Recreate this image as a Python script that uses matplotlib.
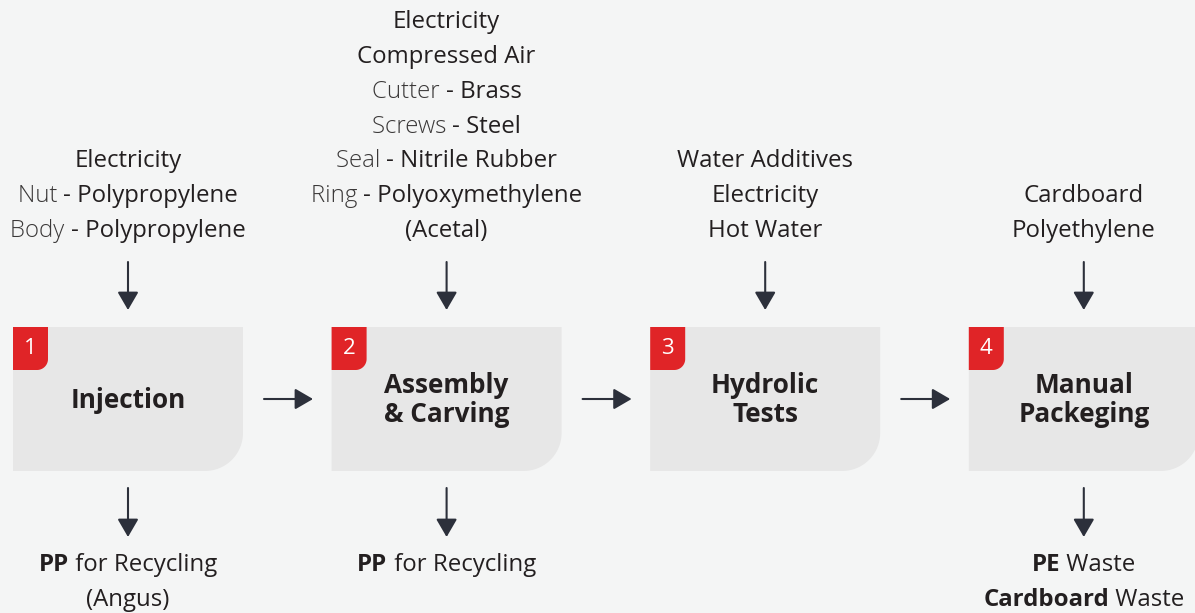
import numpy as np
import matplotlib
matplotlib.use('Agg')
import matplotlib.pyplot as plt
from matplotlib.path import Path
from matplotlib.patches import PathPatch
from matplotlib.offsetbox import TextArea, HPacker, AnnotationBbox

# Process steps
steps = ['Injection', 'Assembly\n& Carving', 'Hydrolic\nTests', 'Manual\nPackeging']
step_numbers = ['1', '2', '3', '4']

# Inputs per step: each line is (light part, regular part)
inputs = [
    [('', 'Electricity'), ('Nut ', '- Polypropylene'), ('Body ', '- Polypropylene')],
    [('', 'Electricity'), ('', 'Compressed Air'), ('Cutter ', '- Brass'), ('Screws ', '- Steel'),
     ('Seal ', '- Nitrile Rubber'), ('Ring ', '- Polyoxymethylene'), ('', '(Acetal)')],
    [('', 'Water Additives'), ('', 'Electricity'), ('', 'Hot Water')],
    [('', 'Cardboard'), ('', 'Polyethylene')],
]

# Outputs per step: each line is (bold part, regular part)
outputs = [
    [('PP', ' for Recycling'), ('', '(Angus)')],
    [('PP', ' for Recycling')],
    [],
    [('PE', ' Waste'), ('Cardboard', ' Waste')],
]

FONT = 'Open Sans'
BG = '#f4f5f5'
BOX = '#e7e7e7'
RED = '#e02427'
DARK = '#231f20'
LIGHT = '#3a3838'
ARROW = '#2c303b'

W, H = 1195, 613
fig = plt.figure(figsize=(W / 100, H / 100), dpi=100)
fig.patch.set_facecolor(BG)
ax = fig.add_axes([0, 0, 1, 1])
ax.set_xlim(0, W)
ax.set_ylim(H, 0)
ax.axis('off')

box_w, box_h = 230, 144
box_top = 327
pitch = 318.6
x_first = 13
line_gap = 34.8
fs = 17.3


def corner_box(x0, y0, w, h, r):
    # rectangle with only the bottom-right corner rounded
    t = np.linspace(0, np.pi / 2, 20)
    arc = [(x0 + w - r + r * np.sin(np.pi / 2 - a), y0 + h - r + r * np.cos(np.pi / 2 - a)) for a in t]
    verts = [(x0, y0), (x0 + w, y0)] + arc + [(x0, y0 + h), (x0, y0)]
    codes = [Path.MOVETO] + [Path.LINETO] * (len(verts) - 2) + [Path.CLOSEPOLY]
    return PathPatch(Path(verts, codes), facecolor=None, edgecolor='none')


def arrow(x1, y1, x2, y2):
    ax.annotate('', xy=(x2, y2), xytext=(x1, y1),
                arrowprops=dict(arrowstyle='-|>,head_length=0.55,head_width=0.32',
                                color=ARROW, lw=1.5, shrinkA=0, shrinkB=0,
                                mutation_scale=20))


def rich_line(x, y, parts):
    children = []
    for text, props in parts:
        if text:
            children.append(TextArea(text, textprops=dict(fontfamily=FONT, fontsize=fs, **props)))
    pack = HPacker(children=children, align='baseline', pad=0, sep=0)
    ab = AnnotationBbox(pack, (x, y), xycoords='data', frameon=False, box_alignment=(0.5, 0.5), pad=0)
    ax.add_artist(ab)


for i, step in enumerate(steps):
    x0 = x_first + i * pitch
    cx = x0 + box_w / 2

    box = corner_box(x0, box_top, box_w, box_h, 38)
    box.set_facecolor(BOX)
    ax.add_patch(box)
    badge = corner_box(x0, box_top, 35, 43, 11)
    badge.set_facecolor(RED)
    ax.add_patch(badge)
    ax.text(x0 + 17.5, box_top + 22, step_numbers[i], color='white', fontsize=16,
            fontfamily=FONT, ha='center', va='center')
    ax.text(cx, box_top + box_h / 2 + 1, step, color=DARK, fontsize=18.8, fontweight='bold',
            fontfamily=FONT, ha='center', va='center', linespacing=1.07)

    # inputs, bottom line aligned
    lines = inputs[i]
    for j, (light, reg) in enumerate(lines):
        y = 231 - (len(lines) - 1 - j) * line_gap
        rich_line(cx, y, [(light, dict(color=LIGHT, fontweight='light')),
                          (reg, dict(color=DARK, fontweight='normal'))])
    arrow(cx, 262, cx, 310)

    # outputs
    if outputs[i]:
        arrow(cx, 488, cx, 537)
        for j, (bold, reg) in enumerate(outputs[i]):
            y = 565 + j * line_gap
            rich_line(cx, y, [(bold, dict(color=DARK, fontweight='bold')),
                              (reg, dict(color=DARK, fontweight='normal'))])

    # arrow to next step
    if i < len(steps) - 1:
        arrow(x0 + box_w + 21, 399, x0 + box_w + 70, 399)

fig.savefig('out.png', dpi=100, facecolor=BG)
